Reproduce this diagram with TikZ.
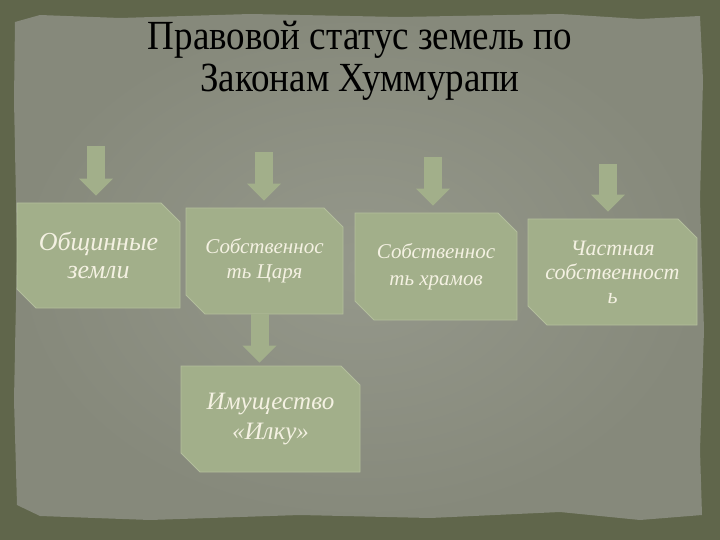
\documentclass[tikz,border=0pt]{standalone}
\usepackage{fontspec}
\setmainfont{Liberation Serif}
\usetikzlibrary{shapes.misc,arrows.meta}

\definecolor{framegreen}{HTML}{60664B}
\definecolor{paperlight}{HTML}{95988B}
\definecolor{paperdark}{HTML}{86897B}
\definecolor{sage}{HTML}{A2AF8A}
\definecolor{sageline}{HTML}{B3BE9C}
\definecolor{cream}{HTML}{F4F1E2}

\tikzset{
	landbox/.style={chamfered rectangle, chamfered rectangle corners={north east,south west},
		chamfered rectangle xsep=16pt, fill=sage, draw=sageline, line width=0.8pt,
		inner sep=0pt, align=center, text=cream},
	blockarrow/.style={sage, line width=18pt, -{Triangle[width=33pt,length=17pt]}, shorten >=7pt}
}

\begin{document}
\begin{tikzpicture}[x=1pt,y=-1pt]

	% frame and torn paper
	\fill[framegreen] (0,0) rectangle (720,540);
	\shade[inner color=paperlight, outer color=paperdark]
		(15,22) -- (40,15) -- (120,18) -- (250,14) -- (400,17) -- (560,14) -- (640,19) -- (700,16)
		-- (703,80) -- (700,200) -- (704,330) -- (700,450) -- (702,515)
		-- (640,520) -- (560,512) -- (430,518) -- (300,515) -- (150,520) -- (40,516)
		-- (17,505) -- (14,400) -- (17,250) -- (14,100) -- cycle;

	\node (title) at (360,61) [align=center, font=\fontsize{37}{37}\selectfont, yscale=1.12, transform shape]
		{Правовой статус земель по\\Законам Хуммурапи};

	\node[landbox, minimum width=163pt, minimum height=105pt, font=\itshape\fontsize{26}{28}\selectfont]
		(box1) at (98.5,255.5) {Общинные\\земли};
	\node[landbox, minimum width=157pt, minimum height=106pt, font=\itshape\fontsize{21}{25}\selectfont]
		(box2) at (264.5,261) {Собственнос\\ть Царя};
	\node[landbox, minimum width=162pt, minimum height=107pt, font=\itshape\fontsize{21}{27}\selectfont]
		(box3) at (436,266.5) {Собственнос\\ть храмов};
	\node[landbox, minimum width=169pt, minimum height=106pt, font=\itshape\fontsize{22}{24}\selectfont]
		(box4) at (612.5,272) {Частная\\собственност\\ь};
	\node[landbox, minimum width=179pt, minimum height=106pt, font=\itshape\fontsize{25}{30}\selectfont]
		(box5) at (270.5,419) {Имущество\\«Илку»};

	\coordinate (a1) at (96,146);
	\coordinate (a2) at (264,152);
	\coordinate (a3) at (433,157);
	\coordinate (a4) at (608,164);

	\draw[blockarrow] (a1) -- (a1 |- box1.north);
	\draw[blockarrow] (a2) -- (a2 |- box2.north);
	\draw[blockarrow] (a3) -- (a3 |- box3.north);
	\draw[blockarrow] (a4) -- (a4 |- box4.north);
	\draw[blockarrow, shorten >=3pt] ([xshift=-5pt]box2.south) -- ([xshift=-5pt]box2.south |- box5.north);

\end{tikzpicture}
\end{document}
